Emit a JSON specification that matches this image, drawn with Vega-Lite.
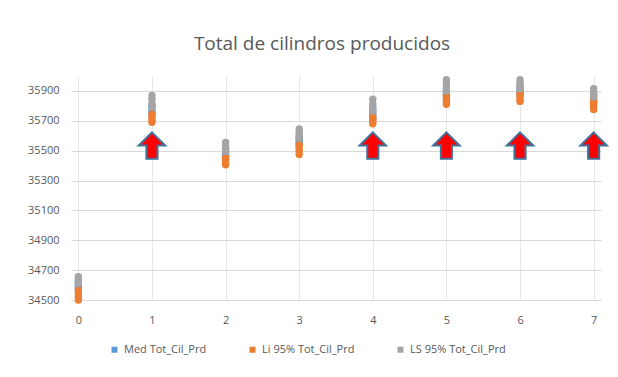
{
  "$schema": "https://vega.github.io/schema/vega-lite/v6.json",
  "width": 618,
  "height": 377,
  "autosize": {"type": "fit", "contains": "padding"},
  "padding": {"left": 27, "right": 8, "top": 35, "bottom": 52},
  "background": "white",
  "config": {
    "font": "Open Sans",
    "view": {"stroke": null},
    "title": {"fontSize": 19, "fontWeight": "normal", "color": "#595959", "font": "Open Sans", "offset": 22}
  },
  "title": {"text": "Total de cilindros producidos", "anchor": "middle", "dx": -14},
  "datasets": {
    "pts": [
      {"x": 0, "v": 34620, "s": "Med Tot_Cil_Prd"}, {"x": 0, "v": 34600, "s": "Med Tot_Cil_Prd"}, {"x": 0, "v": 34585, "s": "Med Tot_Cil_Prd"}, {"x": 0, "v": 34570, "s": "Med Tot_Cil_Prd"},
      {"x": 1, "v": 35810, "s": "Med Tot_Cil_Prd"}, {"x": 1, "v": 35790, "s": "Med Tot_Cil_Prd"}, {"x": 1, "v": 35765, "s": "Med Tot_Cil_Prd"}, {"x": 1, "v": 35745, "s": "Med Tot_Cil_Prd"},
      {"x": 2, "v": 35510, "s": "Med Tot_Cil_Prd"}, {"x": 2, "v": 35490, "s": "Med Tot_Cil_Prd"}, {"x": 2, "v": 35470, "s": "Med Tot_Cil_Prd"}, {"x": 2, "v": 35455, "s": "Med Tot_Cil_Prd"},
      {"x": 3, "v": 35595, "s": "Med Tot_Cil_Prd"}, {"x": 3, "v": 35575, "s": "Med Tot_Cil_Prd"}, {"x": 3, "v": 35555, "s": "Med Tot_Cil_Prd"}, {"x": 3, "v": 35540, "s": "Med Tot_Cil_Prd"},
      {"x": 4, "v": 35785, "s": "Med Tot_Cil_Prd"}, {"x": 4, "v": 35760, "s": "Med Tot_Cil_Prd"}, {"x": 4, "v": 35740, "s": "Med Tot_Cil_Prd"}, {"x": 4, "v": 35720, "s": "Med Tot_Cil_Prd"},
      {"x": 5, "v": 35920, "s": "Med Tot_Cil_Prd"}, {"x": 5, "v": 35895, "s": "Med Tot_Cil_Prd"}, {"x": 5, "v": 35875, "s": "Med Tot_Cil_Prd"}, {"x": 5, "v": 35860, "s": "Med Tot_Cil_Prd"},
      {"x": 6, "v": 35930, "s": "Med Tot_Cil_Prd"}, {"x": 6, "v": 35910, "s": "Med Tot_Cil_Prd"}, {"x": 6, "v": 35890, "s": "Med Tot_Cil_Prd"}, {"x": 6, "v": 35875, "s": "Med Tot_Cil_Prd"},
      {"x": 7, "v": 35880, "s": "Med Tot_Cil_Prd"}, {"x": 7, "v": 35860, "s": "Med Tot_Cil_Prd"}, {"x": 7, "v": 35840, "s": "Med Tot_Cil_Prd"}, {"x": 7, "v": 35825, "s": "Med Tot_Cil_Prd"},
      {"x": 0, "v": 34565, "s": "Li 95% Tot_Cil_Prd"}, {"x": 0, "v": 34540, "s": "Li 95% Tot_Cil_Prd"}, {"x": 0, "v": 34520, "s": "Li 95% Tot_Cil_Prd"}, {"x": 0, "v": 34500, "s": "Li 95% Tot_Cil_Prd"},
      {"x": 1, "v": 35745, "s": "Li 95% Tot_Cil_Prd"}, {"x": 1, "v": 35725, "s": "Li 95% Tot_Cil_Prd"}, {"x": 1, "v": 35705, "s": "Li 95% Tot_Cil_Prd"}, {"x": 1, "v": 35690, "s": "Li 95% Tot_Cil_Prd"},
      {"x": 2, "v": 35455, "s": "Li 95% Tot_Cil_Prd"}, {"x": 2, "v": 35440, "s": "Li 95% Tot_Cil_Prd"}, {"x": 2, "v": 35420, "s": "Li 95% Tot_Cil_Prd"}, {"x": 2, "v": 35405, "s": "Li 95% Tot_Cil_Prd"},
      {"x": 3, "v": 35540, "s": "Li 95% Tot_Cil_Prd"}, {"x": 3, "v": 35520, "s": "Li 95% Tot_Cil_Prd"}, {"x": 3, "v": 35500, "s": "Li 95% Tot_Cil_Prd"}, {"x": 3, "v": 35475, "s": "Li 95% Tot_Cil_Prd"},
      {"x": 4, "v": 35730, "s": "Li 95% Tot_Cil_Prd"}, {"x": 4, "v": 35710, "s": "Li 95% Tot_Cil_Prd"}, {"x": 4, "v": 35695, "s": "Li 95% Tot_Cil_Prd"}, {"x": 4, "v": 35680, "s": "Li 95% Tot_Cil_Prd"},
      {"x": 5, "v": 35870, "s": "Li 95% Tot_Cil_Prd"}, {"x": 5, "v": 35850, "s": "Li 95% Tot_Cil_Prd"}, {"x": 5, "v": 35830, "s": "Li 95% Tot_Cil_Prd"}, {"x": 5, "v": 35810, "s": "Li 95% Tot_Cil_Prd"},
      {"x": 6, "v": 35885, "s": "Li 95% Tot_Cil_Prd"}, {"x": 6, "v": 35865, "s": "Li 95% Tot_Cil_Prd"}, {"x": 6, "v": 35845, "s": "Li 95% Tot_Cil_Prd"}, {"x": 6, "v": 35830, "s": "Li 95% Tot_Cil_Prd"},
      {"x": 7, "v": 35835, "s": "Li 95% Tot_Cil_Prd"}, {"x": 7, "v": 35815, "s": "Li 95% Tot_Cil_Prd"}, {"x": 7, "v": 35795, "s": "Li 95% Tot_Cil_Prd"}, {"x": 7, "v": 35775, "s": "Li 95% Tot_Cil_Prd"},
      {"x": 0, "v": 34656, "s": "LS 95% Tot_Cil_Prd"}, {"x": 0, "v": 34640, "s": "LS 95% Tot_Cil_Prd"}, {"x": 0, "v": 34625, "s": "LS 95% Tot_Cil_Prd"}, {"x": 0, "v": 34610, "s": "LS 95% Tot_Cil_Prd"},
      {"x": 1, "v": 35870, "s": "LS 95% Tot_Cil_Prd"}, {"x": 1, "v": 35845, "s": "LS 95% Tot_Cil_Prd"}, {"x": 1, "v": 35815, "s": "LS 95% Tot_Cil_Prd"}, {"x": 1, "v": 35790, "s": "LS 95% Tot_Cil_Prd"},
      {"x": 2, "v": 35555, "s": "LS 95% Tot_Cil_Prd"}, {"x": 2, "v": 35535, "s": "LS 95% Tot_Cil_Prd"}, {"x": 2, "v": 35515, "s": "LS 95% Tot_Cil_Prd"}, {"x": 2, "v": 35495, "s": "LS 95% Tot_Cil_Prd"},
      {"x": 3, "v": 35645, "s": "LS 95% Tot_Cil_Prd"}, {"x": 3, "v": 35625, "s": "LS 95% Tot_Cil_Prd"}, {"x": 3, "v": 35605, "s": "LS 95% Tot_Cil_Prd"}, {"x": 3, "v": 35585, "s": "LS 95% Tot_Cil_Prd"},
      {"x": 4, "v": 35845, "s": "LS 95% Tot_Cil_Prd"}, {"x": 4, "v": 35815, "s": "LS 95% Tot_Cil_Prd"}, {"x": 4, "v": 35790, "s": "LS 95% Tot_Cil_Prd"}, {"x": 4, "v": 35765, "s": "LS 95% Tot_Cil_Prd"},
      {"x": 5, "v": 35975, "s": "LS 95% Tot_Cil_Prd"}, {"x": 5, "v": 35950, "s": "LS 95% Tot_Cil_Prd"}, {"x": 5, "v": 35925, "s": "LS 95% Tot_Cil_Prd"}, {"x": 5, "v": 35900, "s": "LS 95% Tot_Cil_Prd"},
      {"x": 6, "v": 35975, "s": "LS 95% Tot_Cil_Prd"}, {"x": 6, "v": 35955, "s": "LS 95% Tot_Cil_Prd"}, {"x": 6, "v": 35935, "s": "LS 95% Tot_Cil_Prd"}, {"x": 6, "v": 35915, "s": "LS 95% Tot_Cil_Prd"},
      {"x": 7, "v": 35915, "s": "LS 95% Tot_Cil_Prd"}, {"x": 7, "v": 35895, "s": "LS 95% Tot_Cil_Prd"}, {"x": 7, "v": 35875, "s": "LS 95% Tot_Cil_Prd"}, {"x": 7, "v": 35860, "s": "LS 95% Tot_Cil_Prd"}
    ],
    "arrows": [
      {"x": 1, "v": 35534}, {"x": 4, "v": 35534}, {"x": 5, "v": 35534}, {"x": 6, "v": 35534}, {"x": 7, "v": 35534}
    ]
  },
  "encoding": {
    "x": {
      "field": "x", "type": "quantitative",
      "scale": {"domain": [-0.1, 7.1], "nice": false, "zero": false},
      "axis": {
        "title": null, "values": [0, 1, 2, 3, 4, 5, 6, 7], "format": "d", "grid": true, "gridColor": "#e6e6e6",
        "domain": true, "domainColor": "#d9d9d9", "ticks": false, "labelColor": "#595959",
        "labelFontSize": 11, "labelPadding": 14, "labelFont": "Open Sans", "labelOverlap": false
      }
    },
    "y": {
      "field": "v", "type": "quantitative",
      "scale": {"domain": [34500, 36000], "nice": false, "zero": false},
      "axis": {
        "title": null, "values": [34500, 34700, 34900, 35100, 35300, 35500, 35700, 35900],
        "format": "d", "grid": true, "gridColor": "#d9d9d9", "domain": false, "ticks": false,
        "labelOverlap": false, "labelColor": "#595959", "labelFontSize": 11, "labelPadding": 12, "labelFont": "Open Sans"
      }
    }
  },
  "layer": [
    {
      "data": {"name": "pts"},
      "mark": {"type": "point", "shape": "circle", "filled": true, "size": 55, "opacity": 1},
      "encoding": {
        "color": {
          "field": "s", "type": "nominal",
          "scale": {
            "domain": ["Med Tot_Cil_Prd", "Li 95% Tot_Cil_Prd", "LS 95% Tot_Cil_Prd"],
            "range": ["#5B9BD5", "#ED7D31", "#A5A5A5"]
          },
          "legend": {
            "orient": "none", "legendX": 38, "legendY": 268, "direction": "horizontal", "title": null,
            "symbolType": "square", "symbolSize": 36, "labelFontSize": 11, "labelColor": "#595959",
            "labelFont": "Open Sans", "columnPadding": 40
          }
        }
      }
    },
    {
      "data": {"name": "arrows"},
      "mark": {
        "type": "point",
        "shape": "M0,-1 L1,0 L0.42,0 L0.42,1 L-0.42,1 L-0.42,0 L-1,0 Z",
        "filled": true, "fill": "#FF0000", "stroke": "#41719C", "strokeWidth": 2,
        "size": 700, "opacity": 1
      }
    }
  ]
}
